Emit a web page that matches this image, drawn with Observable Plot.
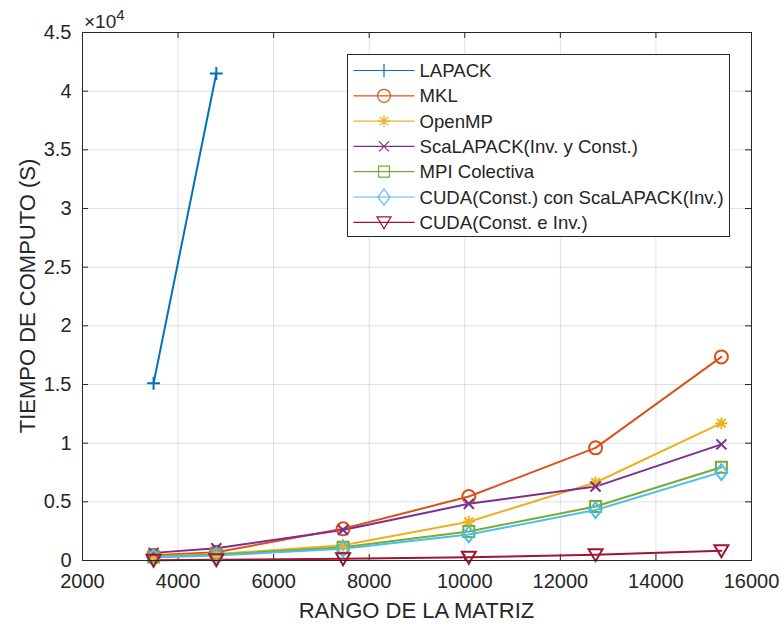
<!DOCTYPE html>
<html>
<head>
<meta charset="utf-8">
<script src="https://cdn.jsdelivr.net/npm/d3@7"></script>
<script src="https://cdn.jsdelivr.net/npm/@observablehq/plot@0.6"></script>
<style>
  html, body { margin: 0; padding: 0; background: #fff; }
  #chart { position: relative; width: 782px; height: 625px; }
</style>
</head>
<body>
<div id="chart"></div>
<script>
// ---- Data ----
const sizes = [3487, 4800, 7453, 10084, 12737, 15370];
const lapackSizes = [3487, 4800];
const lapack = [15100, 41500];
const mkl = [450, 700, 2700, 5450, 9600, 17350];
const openmp = [350, 550, 1300, 3300, 6650, 11700];
const scalapack = [650, 1050, 2600, 4830, 6300, 9900];
const mpiColectiva = [300, 480, 1130, 2480, 4600, 7950];
const cudaScalapack = [250, 420, 1000, 2220, 4300, 7530];
const cuda = [30, 60, 150, 280, 500, 830];

const seriesNames = [
  "LAPACK", "MKL", "OpenMP", "ScaLAPACK(Inv. y Const.)", "MPI Colectiva",
  "CUDA(Const.) con ScaLAPACK(Inv.)", "CUDA(Const. e Inv.)"
];
const xTicks = [2000, 4000, 6000, 8000, 10000, 12000, 14000, 16000];
const yTicks = [0, 5000, 10000, 15000, 20000, 25000, 30000, 35000, 40000, 45000];
const xLabel = "RANGO DE LA MATRIZ";
const yLabel = "TIEMPO DE COMPUTO (S)";

// ---- Styling ----
const colors = ["#0072BD", "#D95319", "#EDB120", "#7E2F8E", "#77AC30", "#4DBEEE", "#A2142F"];
const FONT = "'Liberation Sans', Arial, Helvetica, sans-serif";

// custom marker shapes (size param ignored: fixed pixel dimensions)
const sym = {
  plus: {draw(c) { const r = 6.5; c.moveTo(-r, 0); c.lineTo(r, 0); c.moveTo(0, -r); c.lineTo(0, r); }},
  circle: {draw(c) { const r = 6.5; c.moveTo(r, 0); c.arc(0, 0, r, 0, 2 * Math.PI); }},
  asterisk: {draw(c) { const r = 6; const d = r * 0.72;
    c.moveTo(-r, 0); c.lineTo(r, 0); c.moveTo(0, -r); c.lineTo(0, r);
    c.moveTo(-d, -d); c.lineTo(d, d); c.moveTo(-d, d); c.lineTo(d, -d); }},
  times: {draw(c) { const r = 5; c.moveTo(-r, -r); c.lineTo(r, r); c.moveTo(-r, r); c.lineTo(r, -r); }},
  square: {draw(c) { const r = 5.5; c.moveTo(-r, -r); c.lineTo(r, -r); c.lineTo(r, r); c.lineTo(-r, r); c.closePath(); }},
  diamond: {draw(c) { const w = 6, h = 8; c.moveTo(0, -h); c.lineTo(w, 0); c.lineTo(0, h); c.lineTo(-w, 0); c.closePath(); }},
  triDown: {draw(c) { c.moveTo(-7, -5.5); c.lineTo(7, -5.5); c.lineTo(0, 6.5); c.closePath(); }}
};
const symbols = [sym.plus, sym.circle, sym.asterisk, sym.times, sym.square, sym.diamond, sym.triDown];

const seriesY = [lapack, mkl, openmp, scalapack, mpiColectiva, cudaScalapack, cuda];
const seriesX = [lapackSizes, sizes, sizes, sizes, sizes, sizes, sizes];

const series = seriesNames.map((name, i) => ({
  name, color: colors[i], symbol: symbols[i],
  data: seriesY[i].map((v, j) => ({x: seriesX[i][j], y: v}))
}));

const W = 782, H = 625;
const mL = 82, mR = 31, mT = 32, mB = 65;
const innerH = H - mT - mB;
const innerW = W - mL - mR;
const tickLen = 6;
const axisColor = "#262626";

const marks = [
  Plot.gridX(xTicks, {x: d => d, stroke: "#000", strokeOpacity: 0.12, strokeWidth: 1}),
  Plot.gridY(yTicks, {y: d => d, stroke: "#000", strokeOpacity: 0.12, strokeWidth: 1}),
  // inward ticks on all four sides
  Plot.tickX(xTicks, {x: d => d, stroke: axisColor, insetTop: innerH - tickLen}),
  Plot.tickX(xTicks, {x: d => d, stroke: axisColor, insetBottom: innerH - tickLen}),
  Plot.tickY(yTicks, {y: d => d, stroke: axisColor, insetRight: innerW - tickLen}),
  Plot.tickY(yTicks, {y: d => d, stroke: axisColor, insetLeft: innerW - tickLen}),
  Plot.axisX({ticks: xTicks, tickSize: 0, tickPadding: 13, tickFormat: d => String(d), fontSize: 20, fill: axisColor, label: null}),
  Plot.axisY({ticks: yTicks, tickSize: 0, tickPadding: 11, tickFormat: d => String(d / 10000), fontSize: 20, fill: axisColor, label: null})
];
for (const s of series) {
  marks.push(Plot.line(s.data, {x: "x", y: "y", stroke: s.color, strokeWidth: 2, strokeLinejoin: "round"}));
}
for (const s of series) {
  marks.push(Plot.dot(s.data, {x: "x", y: "y", symbol: s.symbol, r: 6, stroke: s.color, strokeWidth: 2, fill: "none"}));
}
marks.push(Plot.frame({stroke: axisColor, strokeWidth: 1}));

const plot = Plot.plot({
  width: W, height: H,
  marginLeft: mL, marginRight: mR, marginTop: mT, marginBottom: mB,
  style: {fontFamily: FONT, background: "#fff", color: axisColor},
  x: {domain: [2000, 16000], label: null},
  y: {domain: [0, 45000], label: null},
  marks
});
document.getElementById("chart").appendChild(plot);

// ---- Annotations: axis titles, exponent, legend ----
const svg = d3.select(plot);
const xMid = mL + innerW / 2, yMid = mT + innerH / 2;
svg.append("text").attr("x", xMid).attr("y", 618).attr("text-anchor", "middle")
  .attr("font-family", FONT).attr("font-size", 22).attr("fill", axisColor).text(xLabel);
svg.append("text").attr("transform", `translate(35,${yMid}) rotate(-90)`).attr("text-anchor", "middle")
  .attr("font-family", FONT).attr("font-size", 22).attr("fill", axisColor).text(yLabel);
const expo = svg.append("text").attr("x", mL + 2).attr("y", 28).attr("text-anchor", "start")
  .attr("font-family", FONT).attr("font-size", 19).attr("fill", axisColor);
expo.append("tspan").text("×10");
expo.append("tspan").attr("font-size", 15).attr("dy", -8).text("4");

// legend
const lg = svg.append("g").attr("transform", "translate(347.5,54.5)");
lg.append("rect").attr("width", 382).attr("height", 182).attr("fill", "#fff")
  .attr("stroke", axisColor).attr("stroke-width", 1);
const rowY0 = 16, rowStep = 25.3;
series.forEach((s, i) => {
  const y = rowY0 + i * rowStep;
  const row = lg.append("g").attr("transform", `translate(0,${y})`);
  row.append("line").attr("x1", 6).attr("x2", 67).attr("y1", 0).attr("y2", 0)
    .attr("stroke", s.color).attr("stroke-width", 1.2);
  const p = d3.path(); s.symbol.draw(p);
  row.append("path").attr("transform", "translate(36.5,0)").attr("d", p.toString())
    .attr("fill", "none").attr("stroke", s.color).attr("stroke-width", 1.2);
  row.append("text").attr("x", 72).attr("y", 0).attr("dy", "0.35em").attr("text-anchor", "start")
    .attr("font-family", FONT).attr("font-size", 18.6).attr("fill", axisColor).text(s.name);
});
</script>
</body>
</html>
